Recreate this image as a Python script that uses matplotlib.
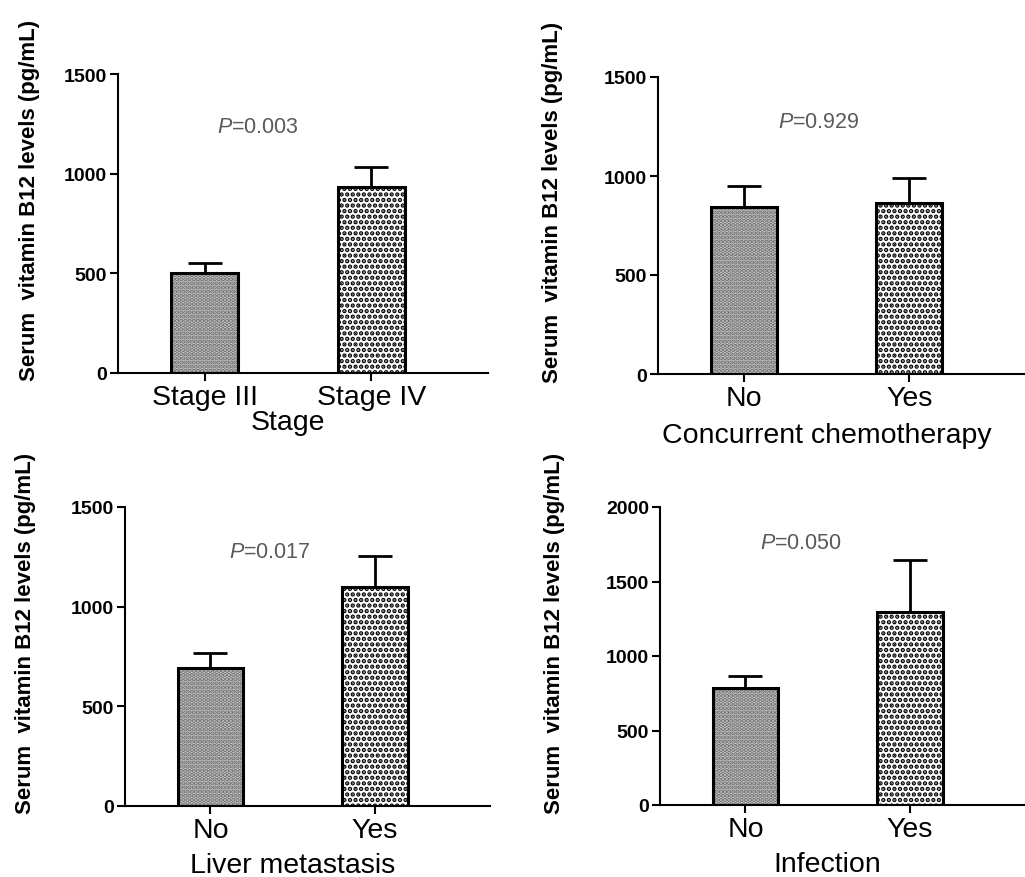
import matplotlib.pyplot as plt

plt.rcParams['font.family'] = ['Liberation Sans', 'DejaVu Sans']
plt.rcParams['mathtext.fontset'] = 'custom'
plt.rcParams['mathtext.rm'] = 'Liberation Sans'
plt.rcParams['mathtext.it'] = 'Liberation Sans:italic'
plt.rcParams['hatch.linewidth'] = 2.2

# data (mean and upper error)
stage_labels = ['Stage III', 'Stage IV']
stage_means = [500, 935]
stage_err = [50, 100]
stage_p = 'P=0.003'

chemo_labels = ['No', 'Yes']
chemo_means = [843, 864]
chemo_err = [106, 126]
chemo_p = 'P=0.929'

liver_labels = ['No', 'Yes']
liver_means = [692, 1099]
liver_err = [76, 155]
liver_p = 'P=0.017'

infect_labels = ['No', 'Yes']
infect_means = [785, 1295]
infect_err = [81, 349]
infect_p = 'P=0.050'

W, H = 1025, 878
fig = plt.figure(figsize=(W / 100, H / 100), dpi=100)

# (left, top, right, bottom) in pixels, ylabel x, xlabel offset, p-text pos
layout = [
    dict(box=(118, 75, 488, 374), ymax=1500, ylab_x=40, xlab_off=36, ppos=(0.32, 1235)),
    dict(box=(658, 78, 1025, 375), ymax=1500, ylab_x=563, xlab_off=48, ppos=(0.45, 1273)),
    dict(box=(125, 508, 490, 807), ymax=1500, ylab_x=36, xlab_off=46, ppos=(0.36, 1279)),
    dict(box=(660, 508, 1025, 806), ymax=2000, ylab_x=565, xlab_off=46, ppos=(0.34, 1765)),
]
panels = [
    (stage_labels, stage_means, stage_err, stage_p, 'Stage'),
    (chemo_labels, chemo_means, chemo_err, chemo_p, 'Concurrent chemotherapy'),
    (liver_labels, liver_means, liver_err, liver_p, 'Liver metastasis'),
    (infect_labels, infect_means, infect_err, infect_p, 'Infection'),
]

# fill styles: (face, hatch colour, hatch)
fills = [('#c8c8c8', '#6c6c6c', '....'),
         ('white', 'black', '...')]


def hatched_bar(ax, xi, h, style):
    face, hcol, hatch = style
    ax.bar(xi, h, width=0.40, facecolor=face, edgecolor=hcol,
           hatch=hatch, linewidth=0, zorder=2)
    ax.bar(xi, h, width=0.40, fill=False, edgecolor='black', linewidth=2.2, zorder=3)


xlim = (-0.52, 1.70)
for lay, (labels, means, err, ptxt, xlab) in zip(layout, panels):
    l, t, r, b = lay['box']
    ax = fig.add_axes([l / W, 1 - b / H, (r - l) / W, (b - t) / H])
    x = [0, 1]
    for xi, m, st in zip(x, means, fills):
        hatched_bar(ax, xi, m, st)
    ax.errorbar(x, means, yerr=[[0, 0], err], fmt='none', ecolor='black',
                elinewidth=2, capsize=12, capthick=2, zorder=1)

    ax.set_xlim(*xlim)
    ax.set_ylim(0, lay['ymax'])
    ax.set_yticks(range(0, lay['ymax'] + 1, 500))
    ax.set_xticks(x)
    ax.set_xticklabels(labels, fontsize=20.5)
    for tl in ax.get_yticklabels():
        tl.set_fontweight('bold')
        tl.set_fontsize(14)
    ax.tick_params(axis='both', direction='out', length=6, width=1.5, pad=2)

    for s in ['top', 'right']:
        ax.spines[s].set_visible(False)
    for s in ['left', 'bottom']:
        ax.spines[s].set_linewidth(1.5)

    ax.set_ylabel('Serum  vitamin B12 levels (pg/mL)', fontsize=16, fontweight='bold')
    ax.yaxis.set_label_coords((lay['ylab_x'] - l) / (r - l), 0.58)
    ax.set_xlabel(xlab, fontsize=20.5)
    xc = (0.5 - xlim[0]) / (xlim[1] - xlim[0])
    ax.xaxis.set_label_coords(xc, -lay['xlab_off'] / (b - t))

    px, py = lay['ppos']
    ax.text(px, py, '$P$' + ptxt[1:], ha='center', va='center',
            fontsize=15.5, color='#5a5a5a')

fig.savefig('out.png', dpi=100)
